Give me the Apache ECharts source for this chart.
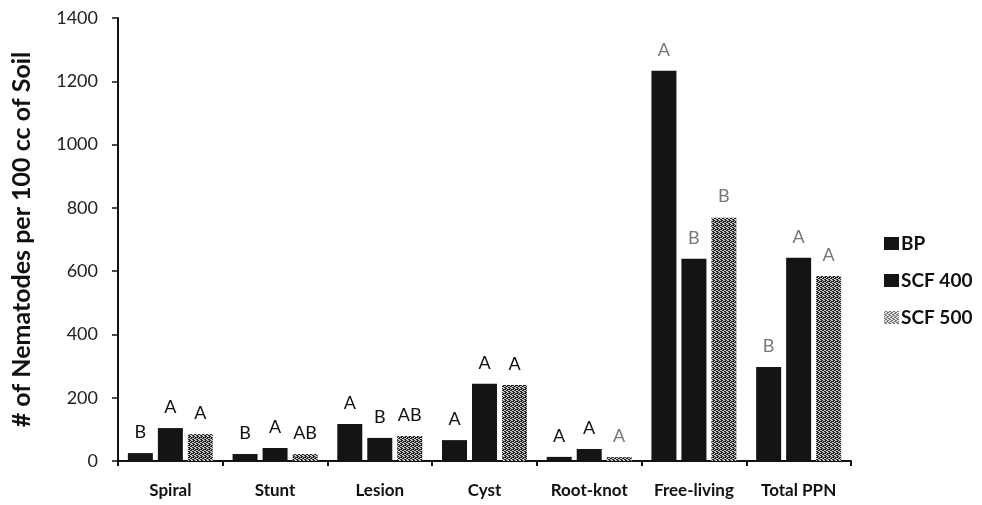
<!DOCTYPE html>
<html>
<head>
<meta charset="utf-8">
<script src="https://cdn.jsdelivr.net/npm/echarts@6/dist/echarts.min.js"></script>
<style>
  html, body { margin: 0; padding: 0; background: #fff; }
  #chart { width: 982px; height: 505px; }
</style>
</head>
<body>
<div id="chart"></div>
<script>
// ---- Data ----
const categories = ['Spiral', 'Stunt', 'Lesion', 'Cyst', 'Root-knot', 'Free-living', 'Total PPN'];
const seriesNames = ['BP', 'SCF 400', 'SCF 500'];
const bpValues = [25, 22, 117, 66, 13, 1233, 297];
const scf400Values = [104, 41, 73, 244, 38, 639, 642];
const scf500Values = [85, 22, 79, 240, 12, 769, 585];
const bpLetters = ['B', 'B', 'A', 'A', 'A', 'A', 'B'];
const scf400Letters = ['A', 'A', 'B', 'A', 'A', 'B', 'A'];
const scf500Letters = ['A', 'AB', 'AB', 'A', 'A', 'B', 'A'];
const yTicks = [0, 200, 400, 600, 800, 1000, 1200, 1400];

// ---- Styling ----
const FONT = 'Lato, "Open Sans", sans-serif';
// letters printed in grey in the original (by category index, per series)
const greyLetter = [
  [false, false, false, false, false, true, true],
  [false, false, false, false, false, true, true],
  [false, false, false, false, true, true, true]
];

function makePattern(dark, light, n) {
  const c = document.createElement('canvas');
  c.width = 4; c.height = 4;
  const ctx = c.getContext('2d');
  ctx.fillStyle = dark;
  ctx.fillRect(0, 0, 4, 4);
  ctx.fillStyle = light;
  const pts = [[0,0],[2,1],[1,2],[3,3],[2,3],[3,0],[0,2],[1,1]];
  for (let i = 0; i < n; i++) ctx.fillRect(pts[i][0], pts[i][1], 1, 1);
  return c;
}
const pattern = { image: makePattern('#222', '#c8c8c8', 7), repeat: 'repeat' };
const legendPattern = { image: makePattern('#777', '#e0e0e0', 8), repeat: 'repeat' };

function buildData(values, letters, sIdx) {
  return values.map((v, i) => ({
    value: v,
    letter: letters[i],
    label: { color: greyLetter[sIdx][i] ? '#777' : '#111' }
  }));
}

const colors = ['#141414', '#141414', pattern];
const seriesVals = [bpValues, scf400Values, scf500Values];
const seriesLetters = [bpLetters, scf400Letters, scf500Letters];

const chart = echarts.init(document.getElementById('chart'), null, { renderer: 'canvas' });
chart.setOption({
  animation: false,
  backgroundColor: '#fff',
  grid: { left: 118, right: 131, top: 18, bottom: 44, containLabel: false },
  legend: {
    orient: 'vertical',
    left: 879,
    top: 229,
    itemWidth: 15,
    itemHeight: 13,
    itemGap: 18,
    icon: 'rect',
    textStyle: { fontFamily: FONT, fontWeight: 'bold', fontSize: 19, color: '#111', padding: [0, 0, 0, -3] },
    data: [
      { name: seriesNames[0] },
      { name: seriesNames[1] },
      { name: seriesNames[2], itemStyle: { color: legendPattern } }
    ]
  },
  xAxis: {
    type: 'category',
    data: categories,
    axisLine: { lineStyle: { color: '#111', width: 2 } },
    axisTick: { show: true, length: 5, lineStyle: { color: '#111', width: 2 } },
    axisLabel: { interval: 0, fontFamily: FONT, fontWeight: 'bold', fontSize: 17, color: '#111', margin: 21 }
  },
  yAxis: {
    type: 'value',
    min: yTicks[0],
    max: yTicks[yTicks.length - 1],
    interval: yTicks[1] - yTicks[0],
    name: '# of Nematodes per 100 cc of Soil',
    nameLocation: 'middle',
    nameGap: 84,
    nameTextStyle: { fontFamily: FONT, fontWeight: 'bold', fontSize: 25, color: '#111' },
    splitLine: { show: false },
    axisLine: { show: true, lineStyle: { color: '#111', width: 2 } },
    axisTick: { show: true, length: 6, lineStyle: { color: '#111', width: 1.5 } },
    axisLabel: { fontFamily: FONT, fontSize: 18, color: '#222', margin: 20, formatter: v => String(v) }
  },
  series: seriesNames.map((name, s) => ({
    name,
    type: 'bar',
    barWidth: 25,
    barGap: '20%',
    itemStyle: { color: colors[s] },
    label: {
      show: true,
      position: 'top',
      distance: 12,
      fontFamily: FONT,
      fontSize: 18,
      formatter: p => p.data.letter
    },
    data: buildData(seriesVals[s], seriesLetters[s], s)
  }))
});
</script>
</body>
</html>
